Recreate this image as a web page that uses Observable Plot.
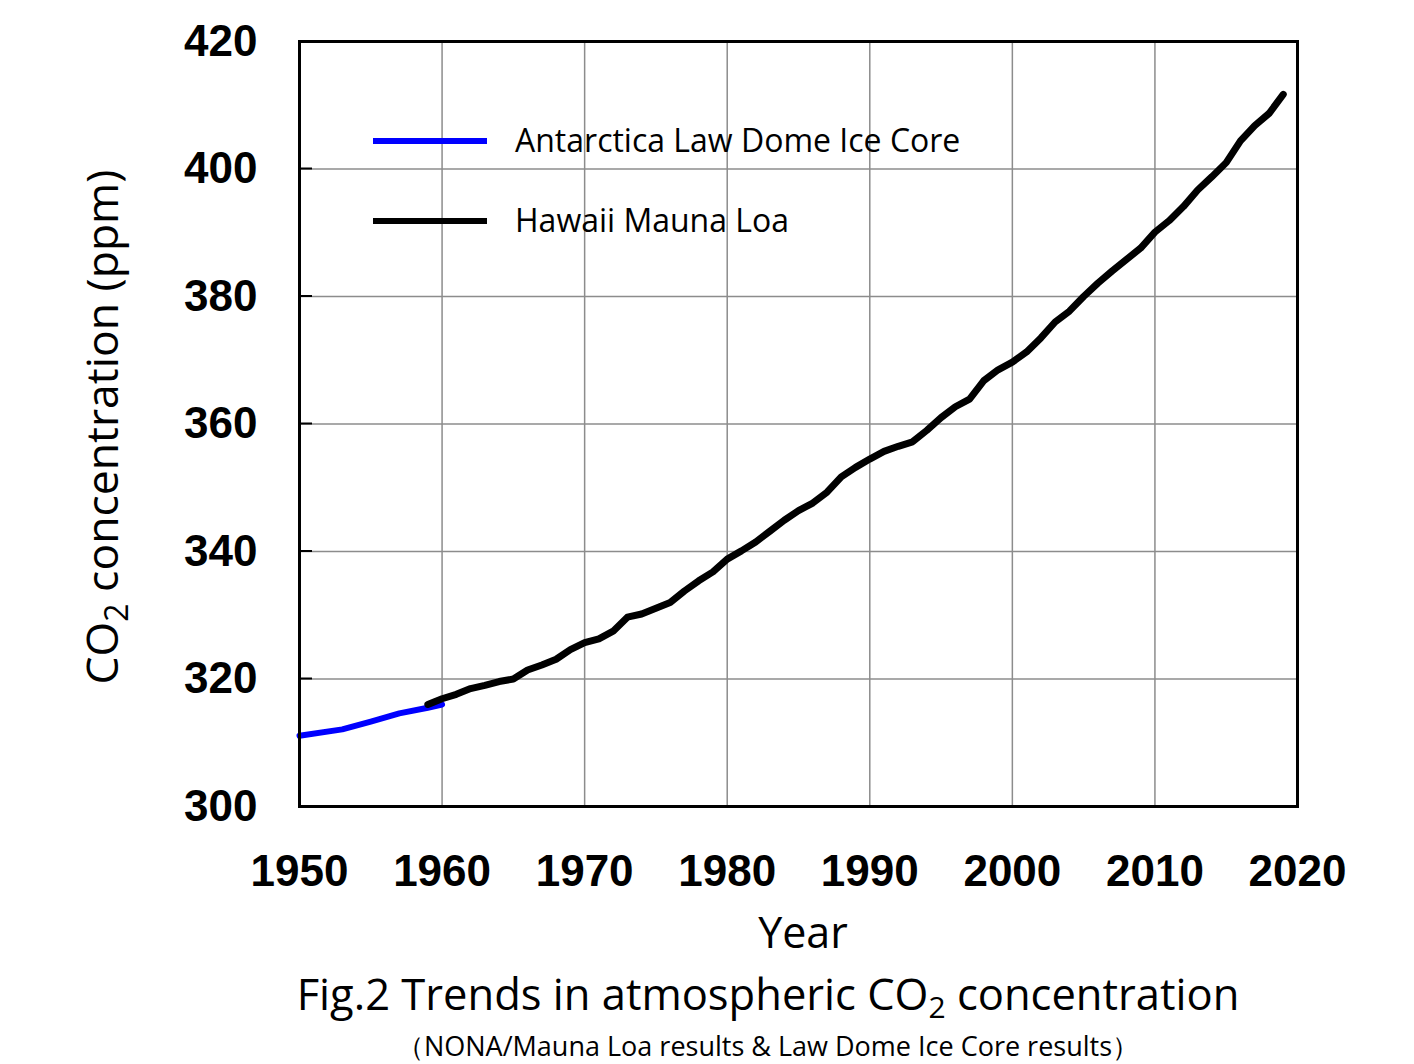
<!DOCTYPE html>
<html>
<head>
<meta charset="utf-8">
<script src="https://cdn.jsdelivr.net/npm/d3@7"></script>
<script src="https://cdn.jsdelivr.net/npm/@observablehq/plot@0.6"></script>
<style>
  html, body { margin: 0; padding: 0; background: #fff; }
</style>
</head>
<body>
<div id="chart"></div>
<script>
// Antarctica Law Dome Ice Core
const lawYears = [1950, 1953, 1955, 1957, 1959, 1960];
const lawCO2   = [311.1, 312.1, 313.3, 314.6, 315.5, 316.0];

// Hawaii Mauna Loa (annual means)
const mlYears = [1959,1960,1961,1962,1963,1964,1965,1966,1967,1968,1969,
  1970,1971,1972,1973,1974,1975,1976,1977,1978,1979,
  1980,1981,1982,1983,1984,1985,1986,1987,1988,1989,
  1990,1991,1992,1993,1994,1995,1996,1997,1998,1999,
  2000,2001,2002,2003,2004,2005,2006,2007,2008,2009,
  2010,2011,2012,2013,2014,2015,2016,2017,2018,2019];
const mlCO2 = [316.0,316.9,317.6,318.5,319.0,319.6,320.0,321.4,322.2,323.1,324.6,
  325.7,326.3,327.5,329.7,330.2,331.1,332.0,333.8,335.4,336.8,
  338.8,340.1,341.5,343.2,344.9,346.4,347.6,349.3,351.7,353.2,
  354.5,355.7,356.5,357.2,359.0,361.0,362.7,363.9,366.8,368.5,
  369.7,371.3,373.5,376.0,377.7,380.0,382.1,384.0,385.8,387.6,
  390.1,391.9,394.1,396.7,398.8,401.0,404.4,406.8,408.7,411.7];

const xTicks = [1950, 1960, 1970, 1980, 1990, 2000, 2010, 2020];
const yTicks = [300, 320, 340, 360, 380, 400, 420];

const seriesNames = ["Antarctica Law Dome Ice Core", "Hawaii Mauna Loa"];
const seriesColors = ["#0000ff", "#000000"];

const law = lawYears.map((y, i) => ({year: y, co2: lawCO2[i]}));
const ml = mlYears.map((y, i) => ({year: y, co2: mlCO2[i]}));

const W = 1414, H = 1064;
const chart = Plot.plot({
  width: W,
  height: H,
  marginLeft: 299,
  marginRight: 117,
  marginTop: 41,
  marginBottom: 258,
  style: {fontFamily: "'Liberation Sans', Arial, sans-serif", background: "#fff"},
  x: {domain: [1950, 2020]},
  y: {domain: [300, 420]},
  marks: [
    Plot.gridX(xTicks, {stroke: "#8c8c8c", strokeOpacity: 1, strokeWidth: 1.5}),
    Plot.gridY(yTicks, {stroke: "#8c8c8c", strokeOpacity: 1, strokeWidth: 1.5}),
    Plot.line(law, {x: "year", y: "co2", stroke: seriesColors[0], strokeWidth: 6, strokeLinejoin: "round"}),
    Plot.line(ml, {x: "year", y: "co2", stroke: seriesColors[1], strokeWidth: 7, strokeLinejoin: "round", strokeLinecap: "round"}),
    Plot.frame({stroke: "#000", strokeWidth: 3}),
    Plot.axisX(xTicks, {tickSize: 0, tickPadding: 48, tickFormat: d => String(d), fontSize: 44, fontWeight: "bold", label: null}),
    Plot.axisY(yTicks, {tickSize: 0, tickPadding: 42, fontSize: 44, fontWeight: "bold", label: null})
  ]
});

document.getElementById("chart").appendChild(chart);

const svg = d3.select(chart);
const font = "'Open Sans', 'Noto Sans', sans-serif";

// inward y ticks
const ys = chart.scale("y");
const xs = chart.scale("x");
svg.append("g").selectAll("line").data(yTicks.slice(1, -1)).join("line")
  .attr("x1", xs.apply(1950)).attr("x2", xs.apply(1950) + 13)
  .attr("y1", d => ys.apply(d)).attr("y2", d => ys.apply(d))
  .attr("stroke", "#000").attr("stroke-width", 2);

// legend
const leg = svg.append("g");
seriesNames.forEach((name, i) => {
  const yy = 141 + i * 80;
  leg.append("line").attr("x1", 373).attr("x2", 487).attr("y1", yy).attr("y2", yy)
    .attr("stroke", seriesColors[i]).attr("stroke-width", 6);
  leg.append("text").attr("x", 515).attr("y", yy).attr("dy", "0.35em")
    .attr("text-anchor", "start")
    .attr("font-family", font).attr("font-size", 32).attr("fill", "#000").text(name);
});

// x label
svg.append("text").attr("x", 803).attr("y", 948).attr("text-anchor", "middle")
  .attr("font-family", font).attr("font-size", 43).attr("fill", "#000").text("Year");

// y label
const yl = svg.append("text").attr("transform", "translate(118,427) rotate(-90)")
  .attr("text-anchor", "middle").attr("font-family", font).attr("font-size", 44.5).attr("fill", "#000");
yl.append("tspan").text("CO");
yl.append("tspan").attr("dy", 10).attr("font-size", 32).text("2");
yl.append("tspan").attr("dy", -10).text(" concentration (ppm)");

// title
const t = svg.append("text").attr("x", 768).attr("y", 1010).attr("text-anchor", "middle")
  .attr("font-family", font).attr("font-size", 43.5).attr("fill", "#000");
t.append("tspan").text("Fig.2 Trends in atmospheric CO");
t.append("tspan").attr("dy", 8).attr("font-size", 30).text("2");
t.append("tspan").attr("dy", -8).text(" concentration");

svg.append("text").attr("x", 768).attr("y", 1056).attr("text-anchor", "middle")
  .attr("font-family", font).attr("font-size", 27).attr("fill", "#000")
  .text("（NONA/Mauna Loa results & Law Dome Ice Core results）");
</script>
</body>
</html>
